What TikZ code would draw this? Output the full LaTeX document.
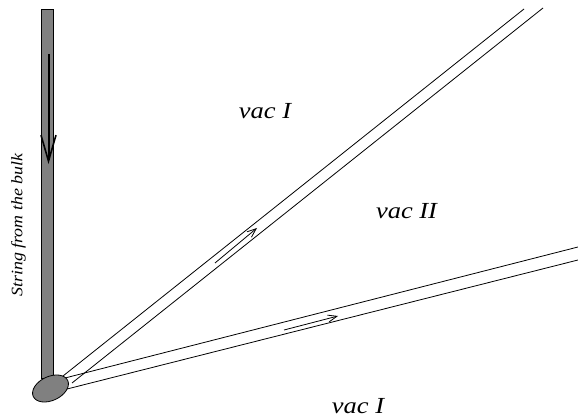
\documentclass[tikz,border=0pt]{standalone}
\usepackage{fontspec}
\setmainfont{Liberation Serif}[ItalicFont={Liberation Serif Italic}]
\usetikzlibrary{arrows.meta,shapes.geometric}
\begin{document}
\begin{tikzpicture}[x=1pt,y=-1pt,
  wall/.style={line width=0.8pt},
  lbl/.style={font=\fontsize{23}{25}\selectfont\itshape, inner sep=0pt},
  flow/.style={line width=0.8pt,-{Straight Barb[length=9pt,width=7pt]}}]
\useasboundingbox (0,0) rectangle (578,419);
% string bar
\node[draw=black, fill=black!50, line width=0.7pt, minimum width=12pt, minimum height=369pt, inner sep=0pt, anchor=north west] (bar) at (40.6,9.3) {};
\draw[line width=2pt, -{Straight Barb[length=26pt,width=15pt,line width=1.6pt]}] (48.5,54) coordinate (as) -- (48.5,164) coordinate (ae);
% walls
\coordinate (a1) at (63,376); \coordinate (b1) at (524,9);
\coordinate (a2) at (72,383); \coordinate (b2) at (543,8);
\coordinate (a3) at (65,378); \coordinate (b3) at (578,247);
\coordinate (a4) at (67,389); \coordinate (b4) at (578,260);
\draw[wall] (a1) -- (b1);
\draw[wall] (a2) -- (b2);
\draw[wall] (a3) -- (b3);
\draw[wall] (a4) -- (b4);
% ellipse
\node[draw=black, fill=black!50, line width=0.8pt, ellipse, minimum width=38pt, minimum height=24pt, inner sep=0pt, rotate=25] (base) at (50.5,388.5) {};
% flow arrows
\coordinate (f1s) at (215,263); \coordinate (f1e) at (257,228);
\coordinate (f2s) at (284,330); \coordinate (f2e) at (338,316);
\draw[flow] (f1s) -- (f1e);
\draw[flow] (f2s) -- (f2e);
% labels
\node[lbl] (v1) at (265,111) {\scalebox{1.15}[1]{vac I}};
\node[lbl] (v2) at (406.5,211) {\scalebox{1.15}[1]{vac II}};
\node[lbl, anchor=base, text depth=0pt] (v3) at (358,413) {\scalebox{1.15}[1]{vac I}};
\node[font=\fontsize{16}{18}\selectfont\itshape, inner sep=0pt, rotate=90] (s) at (18.5,225) {\scalebox{1.12}[1]{String from the bulk}};
\end{tikzpicture}
\end{document}
